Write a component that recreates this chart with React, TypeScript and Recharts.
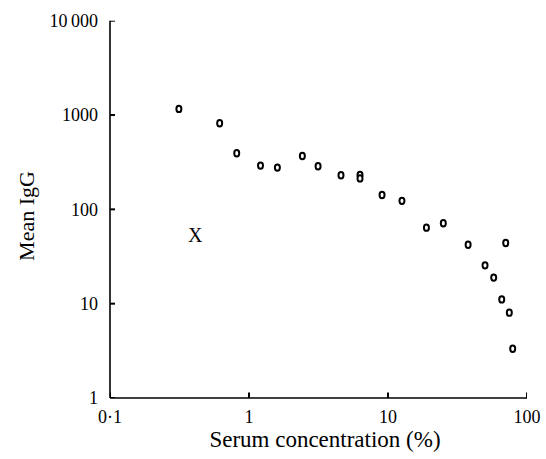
import React from 'react';
import { ScatterChart, Scatter, XAxis, YAxis } from 'recharts';

const serumConc = [0.313, 0.615, 0.816, 1.21, 1.6, 2.42, 3.14, 4.59, 6.29, 6.29, 9.06, 12.6, 18.9, 25.0, 37.7, 49.9, 57.6, 65.8, 70.3, 74.6, 78.9];
const meanIgG = [1161, 818, 393, 291, 277, 368, 286, 230, 232, 213, 142, 123, 64, 71.3, 42.2, 25.5, 18.9, 11.1, 44, 8.03, 3.33];

const xTicks = [0.1, 1, 10, 100];
const xTickLabels = ['0\u00b71', '1', '10', '100'];
const yTicks = [1, 10, 100, 1000, 10000];
const yTickLabels = ['1', '10', '100', '1000', '10\u2009000'];

const markX = [0.41];
const markY = [52.9];
const markText = ['X'];

const FONT = "'Liberation Serif', 'Times New Roman', serif";

const points = serumConc.map((x, i) => ({ x, y: meanIgG[i] }));
const marks = markX.map((x, i) => ({ x, y: markY[i], t: markText[i] }));
const xTickMarks = xTicks.map((v) => ({ x: v, y: yTicks[0] }));
const yTickMarks = yTicks.map((v) => ({ x: xTicks[0], y: v }));

const XTick = (props: any) => {
  const { x, y, payload } = props;
  const idx = xTicks.indexOf(payload.value);
  return (
    <text x={x} y={y + 25} textAnchor="middle" fontFamily={FONT} fontSize={18} fill="#000">
      {idx >= 0 ? xTickLabels[idx] : payload.value}
    </text>
  );
};

const YTick = (props: any) => {
  const { x, y, payload } = props;
  const idx = yTicks.indexOf(payload.value);
  return (
    <text x={x - 12} y={y} dy="0.35em" textAnchor="end" fontFamily={FONT} fontSize={18} fill="#000">
      {idx >= 0 ? yTickLabels[idx] : payload.value}
    </text>
  );
};

const VMark = (props: any) => {
  const { cx, cy } = props;
  return <rect x={cx - 1} y={cy - 5.5} width={2} height={11} fill="#000" />;
};

const HMark = (props: any) => {
  const { cx, cy } = props;
  return <rect x={cx - 5} y={cy - 1} width={10} height={2} fill="#000" />;
};

const OMarker = (props: any) => {
  const { cx, cy } = props;
  return <ellipse cx={cx} cy={cy} rx={2.5} ry={3.2} fill="#fff" stroke="#000" strokeWidth={2} />;
};

const TextMarker = (props: any) => {
  const { cx, cy, payload } = props;
  return (
    <text x={cx} y={cy} dy="0.35em" textAnchor="middle" fontFamily={FONT} fontSize={20} fill="#000">
      {payload.t}
    </text>
  );
};

export default function App() {
  return (
    <div style={{ position: 'absolute', left: 0, top: 0, width: 546, height: 459, background: '#fff' }}>
      <ScatterChart width={546} height={459} margin={{ top: 20.7, right: 19, bottom: 0, left: 0 }}>
        <XAxis
          dataKey="x"
          type="number"
          scale="log"
          domain={[0.1, 100]}
          ticks={xTicks}
          allowDataOverflow
          height={61}
          tickSize={0}
          tickMargin={0}
          tickLine={false}
          axisLine={{ stroke: '#000', strokeWidth: 1.6 }}
          tick={XTick}
          label={{
            content: (p: any) => {
              const vb = p.viewBox || { x: 110, y: 398 };
              return (
                <text x={vb.x + 215} y={vb.y + 49} textAnchor="middle" fontFamily={FONT} fontSize={23} fill="#000">
                  Serum concentration (%)
                </text>
              );
            },
          }}
        />
        <YAxis
          dataKey="y"
          type="number"
          scale="log"
          domain={[1, 10000]}
          ticks={yTicks}
          allowDataOverflow
          width={110}
          tickSize={0}
          tickMargin={0}
          tickLine={false}
          axisLine={{ stroke: '#000', strokeWidth: 1.6 }}
          tick={YTick}
          label={{
            content: () => (
              <text x={34} y={216} transform="rotate(-90, 34, 216)" textAnchor="middle" fontFamily={FONT} fontSize={22} fill="#000">
                Mean IgG
              </text>
            ),
          }}
        />
        <Scatter data={xTickMarks} shape={VMark} isAnimationActive={false} />
        <Scatter data={yTickMarks} shape={HMark} isAnimationActive={false} />
        <Scatter data={points} shape={OMarker} isAnimationActive={false} />
        <Scatter data={marks} shape={TextMarker} isAnimationActive={false} />
      </ScatterChart>
    </div>
  );
}
